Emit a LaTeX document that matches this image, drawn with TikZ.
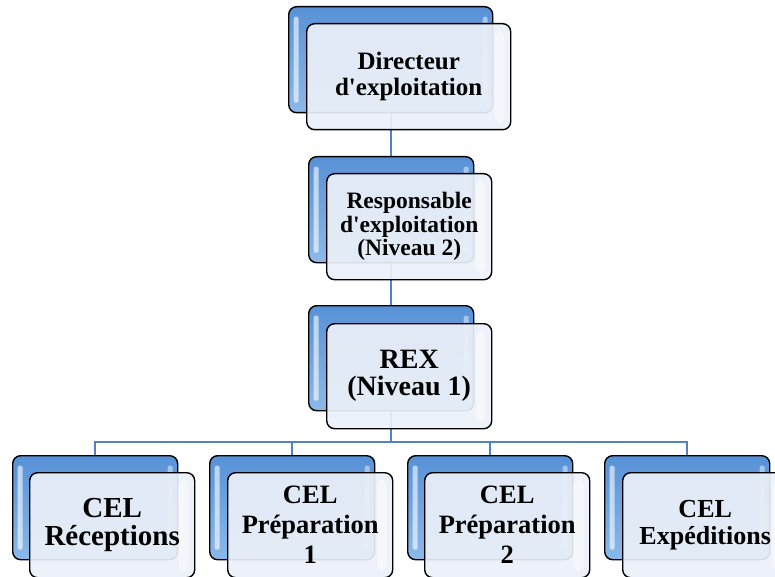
\documentclass[tikz,border=0pt]{standalone}
\usepackage{fontspec}
\setmainfont{Liberation Serif}[Ligatures=TeXOff]
\usetikzlibrary{backgrounds}
\definecolor{linkblue}{HTML}{4F84C2}
\definecolor{backtop}{HTML}{5791D6}
\definecolor{backbot}{HTML}{8BB9EA}
\definecolor{frontfill}{HTML}{EBF0F8}

\tikzset{
  backbox/.style={draw=black, line width=1.4pt, rounded corners=8pt,
    anchor=north west, inner sep=0pt, top color=backtop, bottom color=backbot,
    path picture={
      \fill[white, opacity=.6, rounded corners=2pt]
        ([xshift=5pt,yshift=-10pt]path picture bounding box.north west) rectangle
        ([xshift=10pt,yshift=10pt]path picture bounding box.south west);
      \fill[white, opacity=.45, rounded corners=2pt]
        ([xshift=-10pt,yshift=-10pt]path picture bounding box.north east) rectangle
        ([xshift=-5pt,yshift=10pt]path picture bounding box.south east);}},
  frontbox/.style={draw=black, line width=1.4pt, rounded corners=8pt,
    anchor=north west, inner sep=0pt, fill=frontfill, fill opacity=.92,
    text opacity=1, align=center,
    path picture={
      \fill[white, opacity=.5]
        ([xshift=-16pt,yshift=-6pt]path picture bounding box.north east) rectangle
        ([xshift=-6pt,yshift=6pt]path picture bounding box.south east);}},
  link/.style={draw=linkblue, line width=2.2pt},
  wide/.style={minimum width=204pt, minimum height=106pt},
  unit/.style={minimum width=165pt, minimum height=105pt}
}

\begin{document}
\begin{tikzpicture}[x=1pt, y=-1pt]
  \useasboundingbox (0,0) rectangle (775,577);
  \clip (0,0) rectangle (775,577);

  % top level
  \node[backbox, wide] (dirB) at (288,6) {};
  \node[frontbox, wide, font=\bfseries\fontsize{25}{25.5}\selectfont] (dir) at (306,23)
    {Directeur\\d'exploitation};

  % level 2
  \node[backbox, unit, minimum height=106pt] (respB) at (308,156) {};
  \node[frontbox, unit, minimum height=106pt, font=\bfseries\fontsize{23.5}{23.5}\selectfont] (resp) at (326,173)
    {Responsable\\d'exploitation\\(Niveau 2)};

  % level 1
  \node[backbox, unit] (rexB) at (308,305) {};
  \node[frontbox, unit, font=\bfseries\fontsize{28}{27}\selectfont] (rex) at (326,323)
    {REX\\(Niveau 1)};

  % units
  \node[backbox, unit, minimum height=104pt] (c1B) at (12,455) {};
  \node[frontbox, unit, font=\bfseries\fontsize{29}{28}\selectfont] (c1) at (29,472)
    {CEL\\Réceptions};

  \node[backbox, unit, minimum height=104pt] (c2B) at (209,455) {};
  \node[frontbox, unit, font=\bfseries\fontsize{26.5}{30}\selectfont] (c2) at (227,472)
    {CEL\\Préparation\\1};

  \node[backbox, unit, minimum height=104pt] (c3B) at (407,455) {};
  \node[frontbox, unit, font=\bfseries\fontsize{26.5}{30}\selectfont] (c3) at (424,472)
    {CEL\\Préparation\\2};

  \node[backbox, unit, minimum height=104pt] (c4B) at (604,455) {};
  \node[frontbox, unit, font=\bfseries\fontsize{26}{27}\selectfont] (c4) at (622,472)
    {CEL\\Expéditions};

  \coordinate (bar) at (0,442);

  % connectors, behind the boxes
  \begin{pgfonlayer}{background}
    \draw[link] (dirB.center) -- (dirB.center |- bar);
    \draw[link] (c1B.center) -- (c1B.center |- bar) -- (c4B.center |- bar) -- (c4B.center);
    \draw[link] (c2B.center) -- (c2B.center |- bar);
    \draw[link] (c3B.center) -- (c3B.center |- bar);
  \end{pgfonlayer}
\end{tikzpicture}
\end{document}
